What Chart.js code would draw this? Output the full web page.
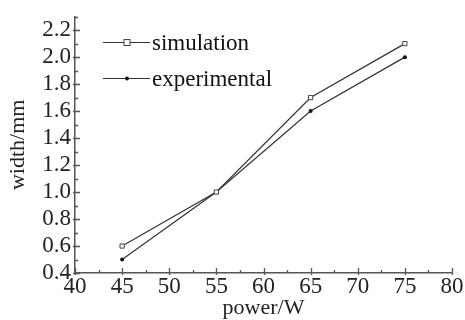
<!DOCTYPE html>
<html>
<head>
<meta charset="utf-8">
<script src="https://cdn.jsdelivr.net/npm/chart.js@4.4.1/dist/chart.umd.min.js"></script>
<style>
  html, body { margin: 0; padding: 0; background: #fff; }
  #wrap { width: 465px; height: 320px; }
</style>
</head>
<body>
<div id="wrap"><canvas id="chartWidth"></canvas></div>
<script>
// potencia (W) e largura (mm)
const potencia = [45, 55, 65, 75];
const simulacao = [0.6, 1.0, 1.7, 2.1];
const experimental = [0.5, 1.0, 1.6, 2.0];
const rotulos = ['simulation', 'experimental'];

const familia = '"Liberation Serif", "Times New Roman", serif';
const fonteTicks = { family: familia, size: 23, lineHeight: 1.1 };
const fonteTitulo = { family: familia, size: 22, lineHeight: 1.1 };
const corEixo = '#555';

function pares(xs, ys) {
    return xs.map((x, i) => ({ x: x, y: ys[i] }));
}

// marcas dos eixos para dentro (maiores nos valores rotulados)
const ticksInternos = {
    id: 'ticksInternos',
    afterDraw(chart) {
        const ctx = chart.ctx;
        const sx = chart.scales.x, sy = chart.scales.y;
        const x0 = sx.left, y0 = sy.bottom;
        ctx.save();
        ctx.strokeStyle = corEixo;
        ctx.lineWidth = 1.3;
        ctx.beginPath();
        sy.ticks.forEach(t => {
            const py = Math.round(sy.getPixelForValue(t.value)) + 0.5;
            const maior = Math.round(t.value * 10) % 2 === 0;
            ctx.moveTo(x0 - (maior ? 2 : 0), py);
            ctx.lineTo(x0 + (maior ? 5 : 3), py);
        });
        sx.ticks.forEach(t => {
            const px = Math.round(sx.getPixelForValue(t.value)) + 0.5;
            const maior = t.value % 5 === 0;
            ctx.moveTo(px, y0 + (maior ? 2 : 0));
            ctx.lineTo(px, y0 - (maior ? 5 : 3));
        });
        ctx.stroke();
        ctx.restore();
    }
};

// legenda com linha e marcador no meio
const legendaLinha = {
    id: 'legendaLinha',
    afterDraw(chart) {
        const ctx = chart.ctx;
        const linhas = [42, 78];
        ctx.save();
        chart.data.datasets.forEach((ds, i) => {
            const y = linhas[i] + 0.5;
            ctx.strokeStyle = ds.borderColor;
            ctx.lineWidth = 1.2;
            ctx.beginPath();
            ctx.moveTo(103, y);
            ctx.lineTo(150, y);
            ctx.stroke();
            ctx.fillStyle = ds.pointBackgroundColor;
            ctx.strokeStyle = ds.pointBorderColor;
            ctx.lineWidth = 1;
            if (ds.pointStyle === 'rect') {
                ctx.fillRect(124, y - 3, 6, 6);
                ctx.strokeRect(124, y - 3, 6, 6);
            } else {
                ctx.beginPath();
                ctx.arc(127, y, 2, 0, Math.PI * 2);
                ctx.fill();
            }
            ctx.fillStyle = '#111';
            ctx.font = fonteTicks.size + 'px ' + familia;
            ctx.textBaseline = 'middle';
            ctx.fillText(ds.label, 152, y + 1);
        });
        ctx.restore();
    }
};

function initChart() {
    const ctx = document.getElementById('chartWidth').getContext('2d');
    new Chart(ctx, {
        type: 'line',
        data: {
            datasets: [{
                label: rotulos[0],
                data: pares(potencia, simulacao),
                borderColor: '#333',
                borderWidth: 1.2,
                pointStyle: 'rect',
                pointRadius: 3,
                pointBackgroundColor: '#fff',
                pointBorderColor: '#444',
                pointBorderWidth: 1,
                tension: 0
            }, {
                label: rotulos[1],
                data: pares(potencia, experimental),
                borderColor: '#333',
                borderWidth: 1.2,
                pointStyle: 'circle',
                pointRadius: 2,
                pointBackgroundColor: '#111',
                pointBorderColor: '#111',
                pointBorderWidth: 0,
                tension: 0
            }]
        },
        options: {
            responsive: true,
            maintainAspectRatio: false,
            animation: false,
            layout: { padding: { left: 0, top: 10, right: 13, bottom: 0 } },
            plugins: {
                legend: { display: false },
                tooltip: { enabled: false }
            },
            scales: {
                x: {
                    type: 'linear',
                    min: 40,
                    max: 80,
                    afterFit: s => { s.height = 47; },
                    ticks: {
                        stepSize: 2.5,
                        autoSkip: false,
                        maxRotation: 0,
                        padding: 1,
                        color: '#222',
                        font: fonteTicks,
                        callback: v => (v % 5 === 0 ? v : '')
                    },
                    grid: { display: true, drawOnChartArea: false, drawTicks: false },
                    border: { color: corEixo, width: 1.5 },
                    title: { display: true, text: 'power/W', color: '#222', font: fonteTitulo, padding: { top: 0, bottom: 0 } }
                },
                y: {
                    min: 0.4,
                    max: 2.3,
                    afterFit: s => { s.width = 75; },
                    ticks: {
                        stepSize: 0.1,
                        autoSkip: false,
                        padding: 4,
                        color: '#222',
                        font: fonteTicks,
                        callback: v => (Math.round(v * 10) % 2 === 0 ? v.toFixed(1) : '')
                    },
                    grid: { display: true, drawOnChartArea: false, drawTicks: false },
                    border: { color: corEixo, width: 1.5 },
                    title: { display: true, text: 'width/mm', color: '#222', font: fonteTitulo, padding: { top: 6, bottom: 0 } }
                }
            }
        },
        plugins: [ticksInternos, legendaLinha]
    });
}

document.addEventListener('DOMContentLoaded', initChart);
</script>
</body>
</html>
